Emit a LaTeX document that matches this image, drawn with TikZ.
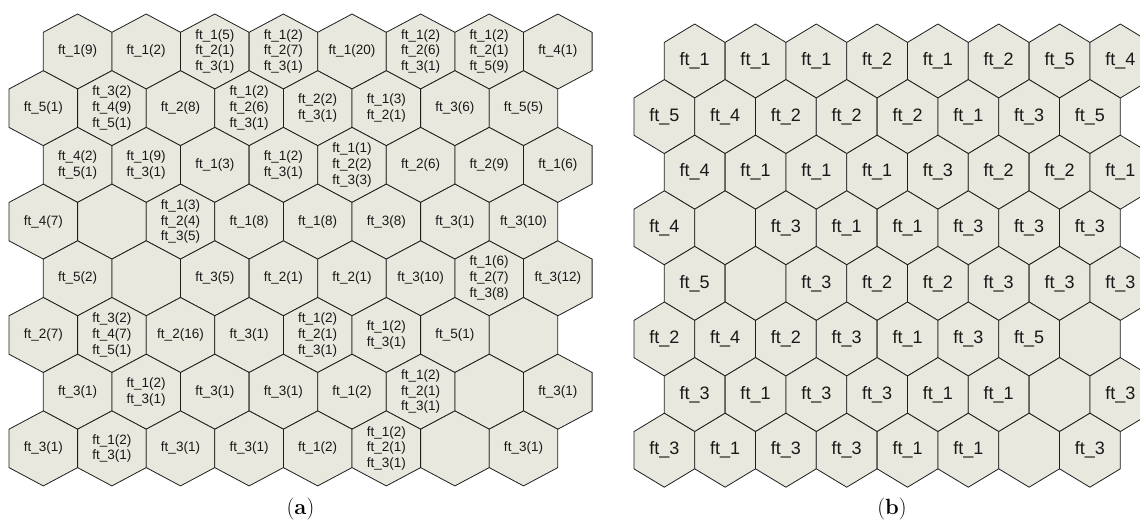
\documentclass[tikz,border=0pt]{standalone}
\usepackage{fontspec}
\newfontfamily\labfont{Liberation Sans}
\definecolor{hexfill}{RGB}{232,232,222}
\definecolor{hexline}{RGB}{30,30,30}
\tikzset{
  hexpath/.style={draw=hexline, fill=hexfill, line width=0.8pt, line join=miter},
  labA/.style={font=\labfont\fontsize{13.5}{15.8}\selectfont, align=center, inner sep=0pt, text=black!90},
  labB/.style={font=\labfont\fontsize{18}{21}\selectfont, inner sep=0pt, text=black!90},
  captxt/.style={font=\fontsize{22}{26}\selectfont, inner sep=0pt}
}
% panel (a): width 68.6, half 34.3; side 38.4; vertex offset 18.3
\newcommand\hexrowA[3]{%
  \foreach \lbl [count=\cc from 0] in {#3} {
    \pgfmathsetmacro\xx{#2+\cc*68.6}
    \pgfmathsetmacro\yy{-(51.5+#1*56.7)}
    \draw[hexpath] (\xx,\yy) ++(0,37.5) -- ++(34.3,-18.3) -- ++(0,-38.4)
      -- ++(-34.3,-18.3) -- ++(-34.3,18.3) -- ++(0,38.4) -- cycle;
    \node[labA] (a-#1-\cc) at (\xx,\yy) {\lbl};
  }
}
% panel (b): width 60.8, half 30.4; side 37.2; vertex offset 18.4
\newcommand\hexrowB[3]{%
  \foreach \lbl [count=\cc from 0] in {#3} {
    \pgfmathsetmacro\xx{#2+\cc*60.8}
    \pgfmathsetmacro\yy{-(61+#1*55.6)}
    \draw[hexpath] (\xx,\yy) ++(0,37) -- ++(30.4,-18.4) -- ++(0,-37.2)
      -- ++(-30.4,-18.4) -- ++(-30.4,18.4) -- ++(0,37.2) -- cycle;
    \node[labB] (b-#1-\cc) at (\xx,\yy) {\lbl};
  }
}
\begin{document}
\begin{tikzpicture}[x=1pt,y=1pt]
\useasboundingbox (0,-522) rectangle (1140,0);
\clip (0,-522) rectangle (1140,0);
% ---------- panel (a)
\hexrowA{0}{77.6}{{ft\_1(9)}, {ft\_1(2)}, {ft\_1(5)\\ft\_2(1)\\ft\_3(1)}, {ft\_1(2)\\ft\_2(7)\\ft\_3(1)}, {ft\_1(20)}, {ft\_1(2)\\ft\_2(6)\\ft\_3(1)}, {ft\_1(2)\\ft\_2(1)\\ft\_5(9)}, {ft\_4(1)}}
\hexrowA{1}{43.3}{{ft\_5(1)}, {ft\_3(2)\\ft\_4(9)\\ft\_5(1)}, {ft\_2(8)}, {ft\_1(2)\\ft\_2(6)\\ft\_3(1)}, {ft\_2(2)\\ft\_3(1)}, {ft\_1(3)\\ft\_2(1)}, {ft\_3(6)}, {ft\_5(5)}}
\hexrowA{2}{77.6}{{ft\_4(2)\\ft\_5(1)}, {ft\_1(9)\\ft\_3(1)}, {ft\_1(3)}, {ft\_1(2)\\ft\_3(1)}, {ft\_1(1)\\ft\_2(2)\\ft\_3(3)}, {ft\_2(6)}, {ft\_2(9)}, {ft\_1(6)}}
\hexrowA{3}{43.3}{{ft\_4(7)}, {}, {ft\_1(3)\\ft\_2(4)\\ft\_3(5)}, {ft\_1(8)}, {ft\_1(8)}, {ft\_3(8)}, {ft\_3(1)}, {ft\_3(10)}}
\hexrowA{4}{77.6}{{ft\_5(2)}, {}, {ft\_3(5)}, {ft\_2(1)}, {ft\_2(1)}, {ft\_3(10)}, {ft\_1(6)\\ft\_2(7)\\ft\_3(8)}, {ft\_3(12)}}
\hexrowA{5}{43.3}{{ft\_2(7)}, {ft\_3(2)\\ft\_4(7)\\ft\_5(1)}, {ft\_2(16)}, {ft\_3(1)}, {ft\_1(2)\\ft\_2(1)\\ft\_3(1)}, {ft\_1(2)\\ft\_3(1)}, {ft\_5(1)}, {}}
\hexrowA{6}{77.6}{{ft\_3(1)}, {ft\_1(2)\\ft\_3(1)}, {ft\_3(1)}, {ft\_3(1)}, {ft\_1(2)}, {ft\_1(2)\\ft\_2(1)\\ft\_3(1)}, {}, {ft\_3(1)}}
\hexrowA{7}{43.3}{{ft\_3(1)}, {ft\_1(2)\\ft\_3(1)}, {ft\_3(1)}, {ft\_3(1)}, {ft\_1(2)}, {ft\_1(2)\\ft\_2(1)\\ft\_3(1)}, {}, {ft\_3(1)}}
% ---------- panel (b)
\hexrowB{0}{694.7}{ft\_1, ft\_1, ft\_1, ft\_2, ft\_1, ft\_2, ft\_5, ft\_4}
\hexrowB{1}{664.3}{ft\_5, ft\_4, ft\_2, ft\_2, ft\_2, ft\_1, ft\_3, ft\_5}
\hexrowB{2}{694.7}{ft\_4, ft\_1, ft\_1, ft\_1, ft\_3, ft\_2, ft\_2, ft\_1}
\hexrowB{3}{664.3}{ft\_4, {}, ft\_3, ft\_1, ft\_1, ft\_3, ft\_3, ft\_3}
\hexrowB{4}{694.7}{ft\_5, {}, ft\_3, ft\_2, ft\_2, ft\_3, ft\_3, ft\_3}
\hexrowB{5}{664.3}{ft\_2, ft\_4, ft\_2, ft\_3, ft\_1, ft\_3, ft\_5, {}}
\hexrowB{6}{694.7}{ft\_3, ft\_1, ft\_3, ft\_3, ft\_1, ft\_1, {}, ft\_3}
\hexrowB{7}{664.3}{ft\_3, ft\_1, ft\_3, ft\_3, ft\_1, ft\_1, {}, ft\_3}
% ---------- captions
\node[captxt] (capA) at (300.5,-509.5) {(\textbf{a})};
\node[captxt] (capB) at (892,-509.5) {(\textbf{b})};
\end{tikzpicture}
\end{document}
